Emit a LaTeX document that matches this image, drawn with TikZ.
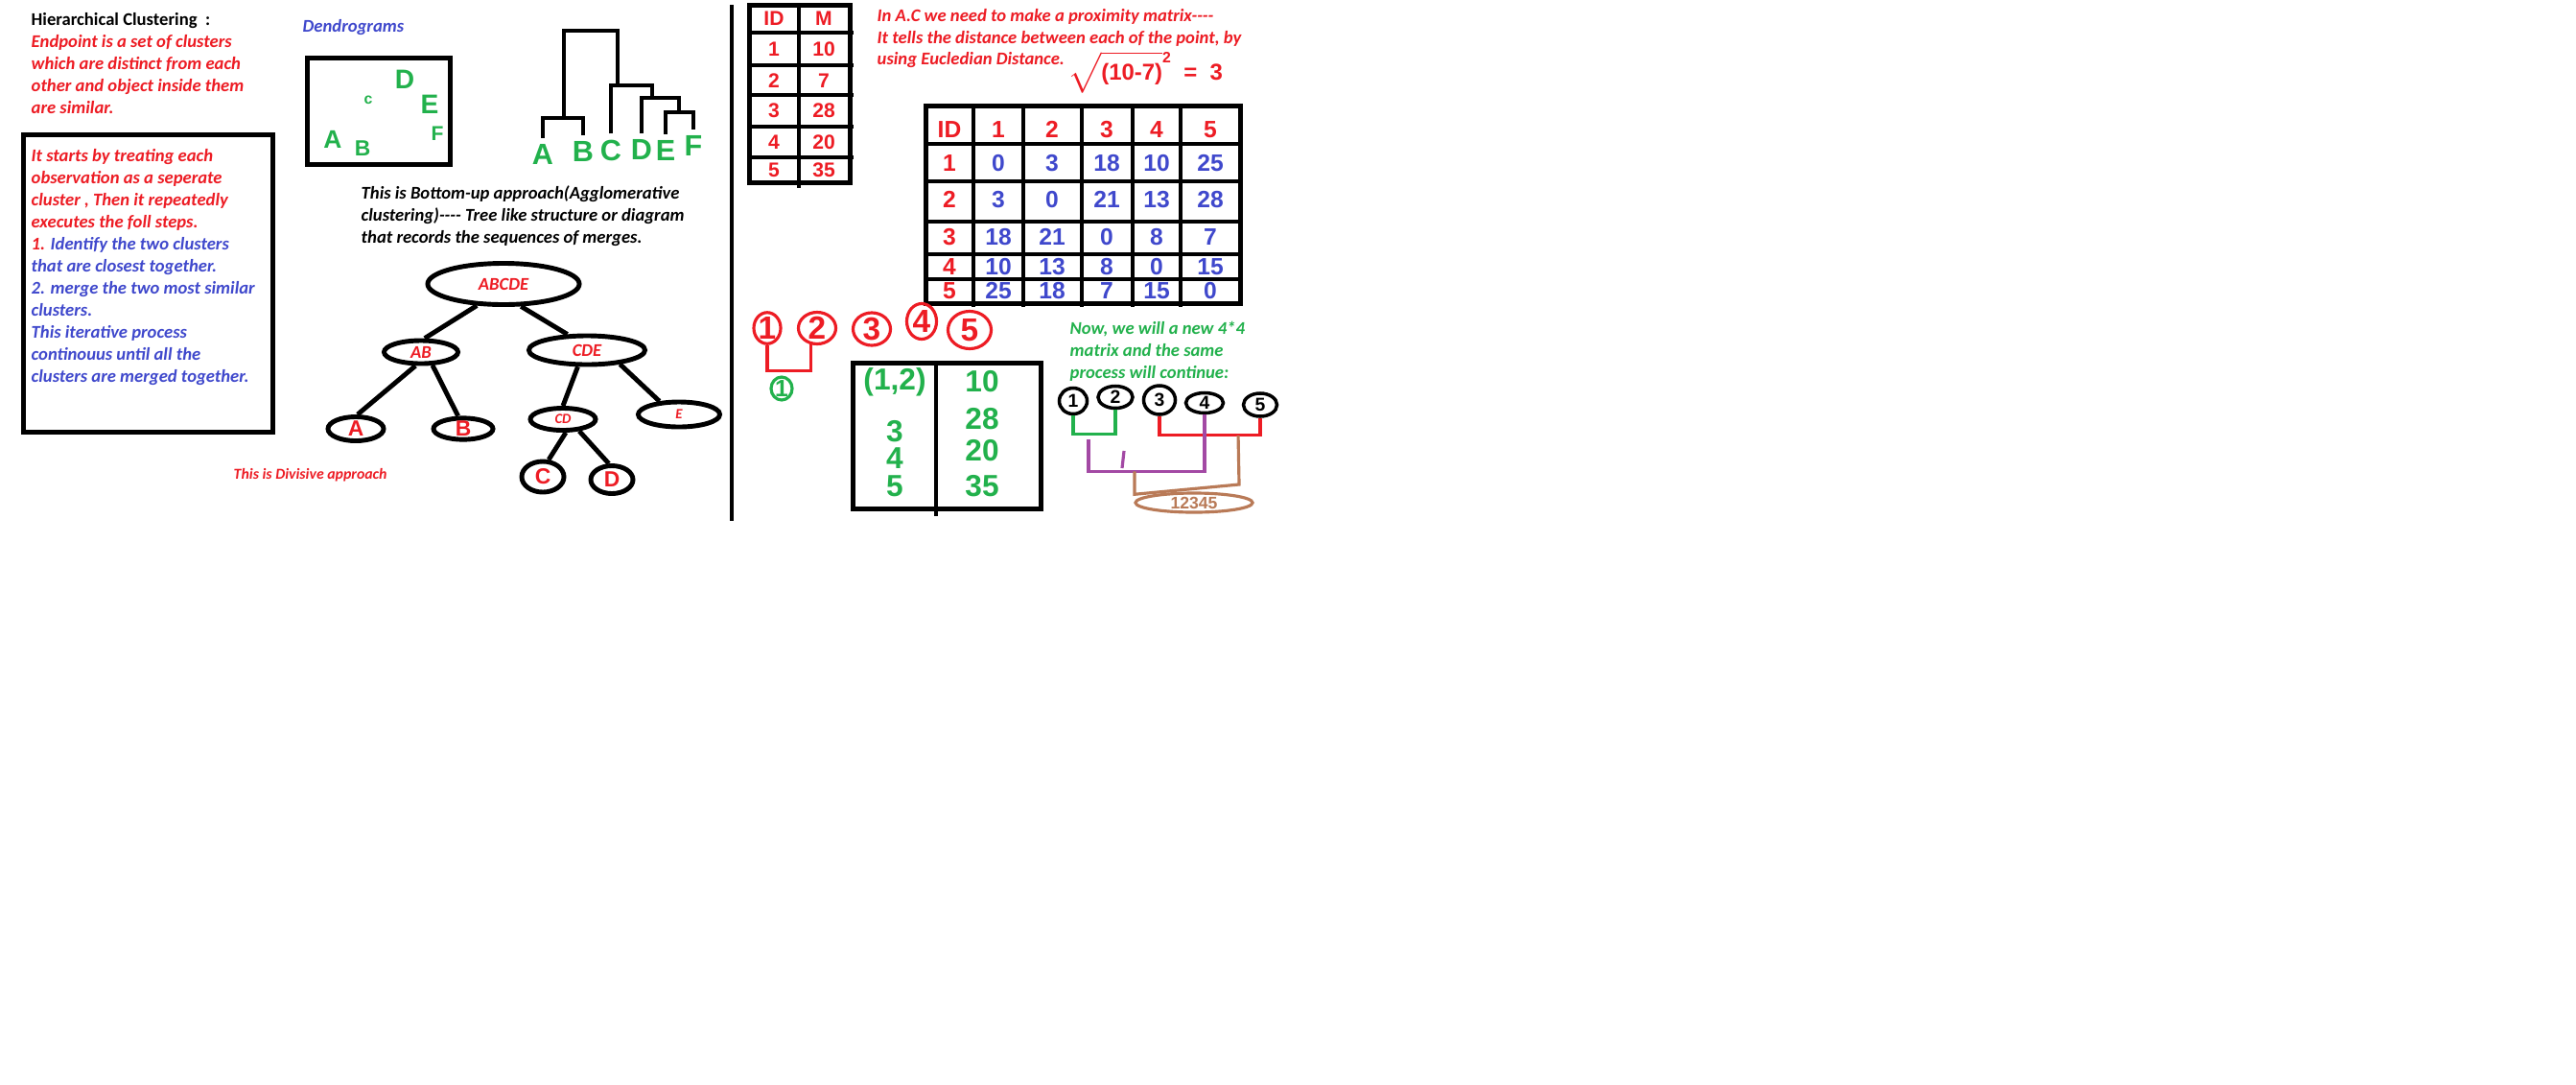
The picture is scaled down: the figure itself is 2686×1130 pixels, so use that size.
\documentclass[tikz,border=0pt]{standalone}
\usepackage{fontspec}
\setmainfont{Carlito}
\newfontfamily\handfont{Liberation Sans}
\usetikzlibrary{shapes.geometric}

\definecolor{paintred}{RGB}{237,28,36}
\definecolor{paintblue}{RGB}{63,72,204}
\definecolor{paintgreen}{RGB}{34,177,76}
\definecolor{paintpurple}{RGB}{163,73,164}
\definecolor{paintbrown}{RGB}{185,122,87}

\newcommand\notefont{\fontsize{5.3}{6.54}\selectfont\bfseries\itshape}
\newcommand\smallnotefont{\fontsize{4.2}{5}\selectfont\bfseries\itshape}

\begin{document}
\begin{tikzpicture}[x=0.01cm,y=-0.01cm,
  note/.style={anchor=base west,inner sep=0,align=left,font=\notefont},
  hand/.style={inner sep=0,font=\handfont\bfseries\fontsize{#1}{#1}\selectfont},
  hand/.default=6,
  thickline/.style={line width=1.4pt},
  tree/.style={ellipse,draw,line width=1.4pt,inner sep=0,text=paintred,font=\notefont},
  edge/.style={line width=1.4pt},
  dendro/.style={line width=1pt},
  pen/.style={line width=.9pt},
  redring/.style={ellipse,draw=paintred,line width=.9pt,inner sep=0,text=paintred,hand=9.5},
  blackring/.style={ellipse,draw,line width=1pt,inner sep=0,hand=5.5}
]

\useasboundingbox[fill=white] (0,0) rectangle (2686,1130);

% Left column (notes sit on the baseline of their last line)
\node[note] (title) at (32,26) {\upshape Hierarchical Clustering \ :};
\node[note,text=paintred] (endpoint) at (32,118) {Endpoint is a set of clusters\\which are distinct from each\\other and object inside them\\are similar.};

\draw[thickline] (24.5,140.5) rectangle (284.5,450.5);
\node[note,text=paintblue] (steps) at (32,398) {\textcolor{paintred}{It starts by treating each}\\
\textcolor{paintred}{observation as a seperate}\\
\textcolor{paintred}{cluster , Then it repeatedly}\\
\textcolor{paintred}{executes the foll steps.}\\
\textcolor{paintred}{1.} Identify the two clusters\\
that are closest together.\\
2. merge the two most similar\\
clusters.\\
This iterative process\\
continouus until all the\\
clusters are merged together.};

% Points in the plane
\node[note,text=paintblue] (dendrolabel) at (315,33) {Dendrograms};
\draw[thickline] (320.5,60.5) rectangle (469.5,171.5);
\node[hand=8,text=paintgreen] (ptD) at (422,83) {D};
\node[hand=4.5,text=paintgreen] (ptC) at (384,104) {c};
\node[hand=8,text=paintgreen] (ptE) at (448,109) {E};
\node[hand=7.5,text=paintgreen] (ptA) at (347,145) {A};
\node[hand=6.5,text=paintgreen] (ptB) at (378,155) {B};
\node[hand=6,text=paintgreen] (ptF) at (456,139) {F};

% Dendrogram
\foreach \n/\x/\y in {A/566/161,B/608/158,C/637/157,D/669/156,E/694/157,F/723/152}
  \node[hand=8.7,text=paintgreen] (leaf\n) at (\x,\y) {\n};
\coordinate (jAB) at (588,123);
\coordinate (jCF) at (644,89);
\coordinate (jDF) at (680,102);
\coordinate (jEF) at (708,117);
\draw[dendro] ([yshift=.06cm]leafA.north) |- (jAB) -| ([yshift=.06cm]leafB.north);
\draw[dendro] (jAB) -- ++(0,-91) -| (jCF);
\draw[dendro] ([yshift=.06cm]leafC.north) |- (jCF) -| (jDF);
\draw[dendro] ([yshift=.06cm]leafD.north) |- (jDF) -| (jEF);
\draw[dendro] ([yshift=.06cm]leafE.north) |- (jEF) -| ([yshift=.06cm]leafF.north);

% Divisive tree
\node[note] (bottomup) at (376,253) {This is Bottom-up approach(Agglomerative\\clustering)-{}-{}-{}- Tree like structure or diagram\\that records the sequences of merges.};

\node[tree,minimum width=1.58cm,minimum height=.43cm] (abcde) at (525,296) {ABCDE};
\node[tree,minimum width=.77cm,minimum height=.24cm] (ab) at (439,367) {AB};
\node[tree,minimum width=1.21cm,minimum height=.30cm] (cde) at (612,365) {CDE};
\node[tree,hand=6.5,minimum width=.58cm,minimum height=.25cm] (a) at (371,447) {A};
\node[tree,hand=6.5,minimum width=.62cm,minimum height=.22cm] (b) at (483,447) {B};
\node[tree,font=\smallnotefont,minimum width=.68cm,minimum height=.23cm] (cd) at (587,437) {CD};
\node[tree,font=\smallnotefont,minimum width=.85cm,minimum height=.26cm] (e) at (708,432) {E};
\node[tree,hand=6.5,minimum width=.44cm,minimum height=.32cm] (c) at (566,497) {C};
\node[tree,hand=6.5,minimum width=.44cm,minimum height=.29cm] (d) at (638,500) {D};

\draw[edge] (abcde.219) -- (ab.75);
\draw[edge] (abcde.308) -- (cde.141);
\draw[edge] (ab.248) -- (a.83);
\draw[edge] (ab.311) -- (b.112);
\draw[edge] (cde.241) -- (cd.90);
\draw[edge] (cde.337) -- (e.146);
\draw[edge] (cd.282) -- (c.71);
\draw[edge] (cd.324) -- (d.101);

\node[note,font=\fontsize{4.5}{5}\selectfont\bfseries\itshape,text=paintred] (divisive) at (243,499) {This is Divisive approach};

% Divider
\draw[line width=1.2pt] (763,5) -- (763,543);

% Data table
\draw[thickline] (781.5,5.5) rectangle (886.5,190.5);
\draw[thickline] (833,5.5) -- (833,196);
\foreach \y in {34,68,99,132,164}
  \draw[thickline] (781.5,\y) -- (890,\y);
\foreach \i/\y/\a/\b in {0/19/ID/M,1/51/1/10,2/84/2/7,3/115/3/28,4/148/4/20,5/177/5/35}{
  \node[hand=6,text=paintred] (ida-\i) at (807,\y) {\a};
  \node[hand=6,text=paintred] (idb-\i) at (859,\y) {\b};
}

% Proximity matrix
\node[note,text=paintred] (proximity) at (914,45) {In A.C we need to make a proximity matrix-{}-{}-{}-\\It tells the distance between each of the point, by};
\node[note,text=paintred] (eucledian) at (914,67) {using Eucledian Distance.};
\node[hand=6.8,text=paintred] (distcalc) at (1194,75) {$\sqrt{\mbox{(10-7)}}$\raisebox{1.4ex}{\fontsize{4.5}{4.5}\selectfont 2}\ \ = \ 3};

\draw[thickline] (965.5,110.5) rectangle (1293.5,316.5);
\foreach \x in {1015,1067,1128,1181,1231}
  \draw[thickline] (\x,108) -- (\x,320);
\foreach \y in {150,189,231,265,291}
  \draw[thickline] (965.5,\y) -- (1296,\y);
\foreach \h [count=\j from 0] in {ID,1,2,3,4,5}{
  \pgfmathsetmacro\cx{{990,1041,1097,1154,1206,1262}[\j]}
  \node[hand=7,text=paintred] (pm-0-\j) at (\cx,135) {\h};
}
\foreach \i/\y/\vals in {1/170/{0,3,18,10,25},2/208/{3,0,21,13,28},3/247/{18,21,0,8,7},4/278/{10,13,8,0,15},5/303/{25,18,7,15,0}}{
  \node[hand=7,text=paintred] (pm-\i-0) at (990,\y) {\i};
  \foreach \v [count=\j] in \vals{
    \pgfmathsetmacro\cx{{990,1041,1097,1154,1206,1262}[\j]}
    \node[hand=7,text=paintblue] (pm-\i-\j) at (\cx,\y) {\v};
  }
}

% First merge
\foreach \i/\x/\y/\w/\h in {1/800/342/.28/.30,2/852/342/.39/.32,3/909/343/.39/.34,4/961/335/.31/.37,5/1011/344/.45/.39}
  \node[redring,minimum width=\w cm,minimum height=\h cm] (c\i) at (\x,\y) {\i};
\draw[pen,paintred] (c1.south) -- ++(0,27) -| (c2.250);
\node[ellipse,draw=paintgreen,line width=.9pt,inner sep=0,text=paintgreen,hand=7,minimum width=.22cm,minimum height=.21cm] (g1) at (815,405) {1};

\draw[thickline] (889.5,378.5) rectangle (1085.5,530.5);
\draw[thickline] (976,378.5) -- (976,538);
\foreach \i/\ya/\a/\yb/\b in {1/398/{(1,2)}/398/10,2/450/3/437/28,3/478/4/470/20,4/507/5/507/35}{
  \node[hand=9,text=paintgreen] (pa-\i) at (933,\ya) {\a};
  \node[hand=9,text=paintgreen] (pb-\i) at (1024,\yb) {\b};
}

% Next steps
\node[note,text=paintgreen] (newmatrix) at (1115,394) {Now, we will a new 4*4\\matrix and the same\\process will continue:};
\foreach \i/\x/\y/\w/\h in {1/1119/418/.29/.27,2/1163/414/.36/.23,3/1209/417/.33/.30,4/1256/420/.39/.21,5/1314/422/.35/.24}
  \node[blackring,minimum width=\w cm,minimum height=\h cm] (k\i) at (\x,\y) {\i};
\draw[pen,paintgreen] (k1.south) -- ++(0,19) coordinate (g12) -| (k2.south);
\draw[pen,paintred] (k3.south) -- ++(0,20) coordinate (r35) -| (k5.south);
\draw[pen,paintpurple] ([xshift=.16cm]g12) ++(0,6) -- ++(0,33) coordinate (p124) -| (k4.south);
\draw[pen,paintpurple] (1172,470) -- (1170,488);
\node[ellipse,draw=paintbrown,line width=.9pt,inner sep=0,text=paintbrown,hand=5,minimum width=1.22cm,minimum height=.2cm] (merged) at (1245,524) {12345};
\draw[pen,paintbrown] ([xshift=.48cm]p124) -- ++(0,24) -- (1292,505) -- ([xshift=.82cm]r35);

\end{tikzpicture}
\end{document}
